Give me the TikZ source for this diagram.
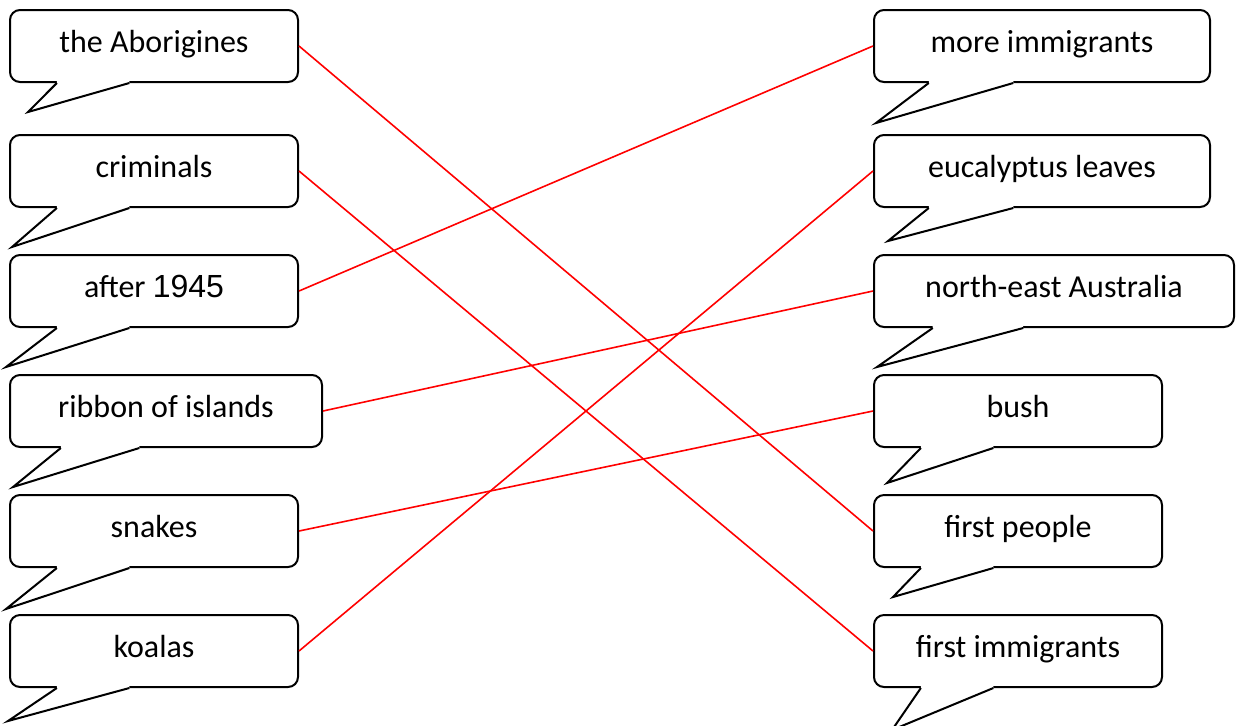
\documentclass[tikz,border=0pt]{standalone}
\usepackage{fontspec}
\setmainfont{Carlito}
\newfontfamily\arialfont{Liberation Sans}
\usetikzlibrary{calc}

\begin{document}
\begin{tikzpicture}[
    % GLOBAL CFG
    x=0.5pt, y=-0.5pt,
    font=\fontsize{16}{19}\selectfont,
    % Styles
    bubble/.style={% speech box
        rectangle,
        rounded corners=5pt,
        draw,
        fill=white,
        line width=1pt,
        minimum width=144pt,
        minimum height=36pt,
        text height=11pt,
        text depth=4.5pt,
        anchor=west,
        },
    tail/.style={% pointer under a speech box
        line width=1pt,
        line join=miter,
        },
    link/.style={% red matching lines
        red,
        line width=0.8pt,
        },
    ]

    \useasboundingbox (0,0) rectangle (1236,725);

    % Left boxes
    \node [bubble] (abor) at (9,46) {the Aborigines};
    \node [bubble] (crim) at (9,171) {criminals};
    \node [bubble] (after) at (9,291) {after {\arialfont 1945}};
    \node [bubble, minimum width=156pt] (ribbon) at (9,411) {ribbon of islands};
    \node [bubble] (snakes) at (9,531) {snakes};
    \node [bubble] (koalas) at (9,651) {koalas};

    % Right boxes
    \node [bubble, minimum width=168pt] (moreimm) at (873,46) {more immigrants};
    \node [bubble, minimum width=168pt] (euca) at (873,171) {eucalyptus leaves};
    \node [bubble, minimum width=180pt] (neaus) at (873,291) {north-east Australia};
    \node [bubble] (bush) at (873,411) {bush};
    \node [bubble] (firstpeople) at (873,531) {first people};
    \node [bubble] (firstimm) at (873,651) {first immigrants};

    % Pointers, tip given in pixels
    \foreach \n/\tx/\ty in {abor/28/112, crim/12/247, after/6/367, ribbon/13/487,
        snakes/6/609, koalas/8/721, moreimm/876/123, euca/888/241, neaus/877/367,
        bush/887/483, firstpeople/893/597, firstimm/892/730}{
        \path ($(\n.south west)!0.165!(\n.south east)$) coordinate (b1)
              ($(\n.south west)!0.415!(\n.south east)$) coordinate (b2);
        \fill [white] ([yshift=1.5pt]b1) -- (b1) -- (\tx,\ty) -- (b2) -- ([yshift=1.5pt]b2) -- cycle;
        \draw [tail] (b1) -- (\tx,\ty) -- (b2);
    }

    % Matching lines
    \draw [link] (abor.east) -- (firstpeople.west);
    \draw [link] (crim.east) -- (firstimm.west);
    \draw [link] (after.east) -- (moreimm.west);
    \draw [link] (ribbon.east) -- (neaus.west);
    \draw [link] (snakes.east) -- (bush.west);
    \draw [link] (koalas.east) -- (euca.west);

\end{tikzpicture}
\end{document}
